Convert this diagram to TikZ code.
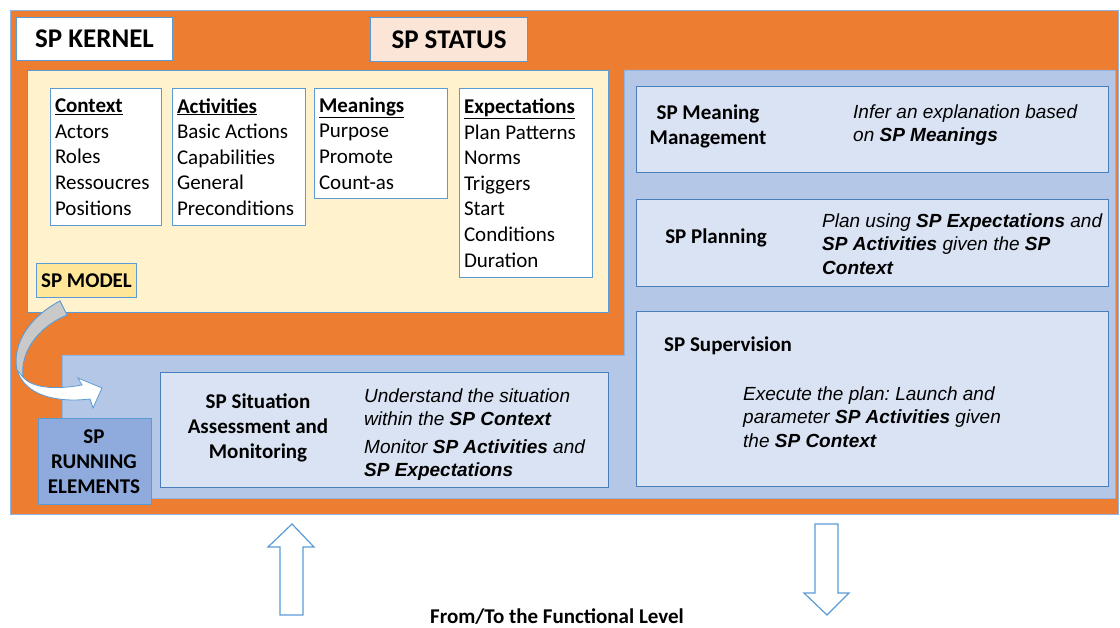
\documentclass[tikz,border=0pt]{standalone}
\usepackage{fontspec}
\setmainfont{Carlito}
\newfontfamily\arialf{Liberation Sans}
\definecolor{orng}{HTML}{ED7D31}
\definecolor{bordblue}{HTML}{5B9BD5}
\definecolor{outerblue}{HTML}{8FB4E3}
\definecolor{panelfill}{HTML}{B4C7E7}
\definecolor{funcfill}{HTML}{DAE3F3}
\definecolor{funcdraw}{HTML}{4A7EBB}
\definecolor{modelfill}{HTML}{FFF2CC}
\definecolor{spmodelfill}{HTML}{FFE699}
\definecolor{runfill}{HTML}{8FAADC}
\definecolor{statusfill}{HTML}{FBE5D6}
\definecolor{foldgray}{HTML}{C9C9C9}
\begin{document}
\begin{tikzpicture}[x=1pt,y=-1pt,
  every node/.append style={execute at begin node={\frenchspacing\spaceskip=0pt\xspaceskip=0pt\relax}},
  box/.style={draw=bordblue, line width=1pt, inner sep=0pt, anchor=north west},
  listbox/.style={box, fill=white, inner xsep=4.5pt, inner ysep=0pt, align=left,
    font=\fontsize{21}{25.6}\selectfont},
  func/.style={box, fill=funcfill, draw=funcdraw, line width=1.2pt},
  hd/.style={font=\fontsize{21}{25}\selectfont\bfseries, align=center, inner sep=0pt},
  it/.style={font=\fontsize{19}{23.5}\selectfont\arialf\itshape, align=left, inner sep=0pt, anchor=west},
  blockarrow/.style={draw=bordblue, line width=1.2pt, fill=white, line join=miter}
]
\useasboundingbox (0,0) rectangle (1120,628);

% outer kernel area
\node[box, draw=outerblue, line width=1.2pt, fill=orng, minimum width=1108pt, minimum height=504pt] (kernelarea) at (10,10) {};

\node[box, fill=white, minimum width=156pt, minimum height=43pt,
  font=\fontsize{27}{32}\selectfont\bfseries] (kernel) at (16,17) {SP KERNEL};
\node[box, fill=statusfill, minimum width=157pt, minimum height=44pt,
  font=\fontsize{27}{32}\selectfont\bfseries] (status) at (370,17) {SP STATUS};

% model area
\node[box, fill=modelfill, minimum width=581pt, minimum height=242pt] (model) at (27,70) {};

\node[listbox, text width=102pt, minimum height=137pt] (context) at (50,88)
  {\textbf{\underline{Context}}\\Actors\\Roles\\Ressoucres\\Positions};
\node[listbox, text width=124pt, minimum height=137pt] (activities) at (172,88)
  {\textbf{\underline{Activities}}\\Basic Actions\\Capabilities\\General\\Preconditions};
\node[listbox, text width=124pt, minimum height=110pt] (meanings) at (314,88)
  {\textbf{\underline{Meanings}}\\Purpose\\Promote\\Count-as};
\node[listbox, text width=124pt, minimum height=189pt] (expectations) at (459,88)
  {\textbf{\underline{Expectations}}\\Plan Patterns\\Norms\\Triggers\\Start\\Conditions\\Duration};

\node[box, fill=spmodelfill, minimum width=100pt, minimum height=34pt,
  font=\fontsize{21}{25}\selectfont\bfseries] (spmodel) at (36,263) {SP MODEL};

% running elements panel (L shape)
\draw[fill=panelfill, draw=outerblue, line width=0.8pt]
  (62,355) -- (624,355) -- (624,70) -- (1115,70) -- (1115,498) -- (62,498) -- cycle;

% curved arrow
\path[fill=white, draw=bordblue, line width=0.8pt, line join=miter]
  (60,301) .. controls (28,318) and (12,345) .. (17,370)
  .. controls (25,395) and (55,403) .. (90,399) -- (93,408) -- (102,388) -- (78,378) -- (82,385)
  .. controls (55,390) and (32,388) .. (23,377)
  .. controls (20,352) and (38,327) .. (67,315) -- cycle;
\path[fill=foldgray, draw=bordblue, line width=0.8pt]
  (60,301) .. controls (28,318) and (12,345) .. (17,370) -- (23,377)
  .. controls (20,352) and (38,327) .. (67,315) -- cycle;

% functional boxes
\node[func, minimum width=472pt, minimum height=86pt] (meaning) at (636,86) {};
\node[func, minimum width=472pt, minimum height=87pt] (planning) at (636,199) {};
\node[func, minimum width=472pt, minimum height=175pt] (supervision) at (636,311) {};
\node[func, minimum width=448pt, minimum height=115pt] (situation) at (160,372) {};
\node[box, fill=runfill, line width=1.2pt, minimum width=113pt, minimum height=86pt] (running) at (38,418) {};

% texts
\node[hd] (meaningT) at (708,126) {SP Meaning\\Management};
\node[it] (meaningD) at (853,125) {Infer an explanation based\\on \textbf{SP Meanings}};

\node[hd] (planningT) at (716,238) {SP Planning};
\node[it] (planningD) at (822,244) {Plan using \textbf{SP Expectations} and\\\textbf{SP Activities} given the \textbf{SP}\\\textbf{Context}};

\node[hd, anchor=west] (supervisionT) at (664,346) {SP Supervision};
\node[it] (supervisionD) at (743,417) {Execute the plan: Launch and\\parameter \textbf{SP Activities} given\\the \textbf{SP Context}};

\node[hd] (situationT) at (258,428) {SP Situation\\Assessment and\\Monitoring};
\node[it] (situationD1) at (364,407) {Understand the situation\\within the \textbf{SP Context}};
\node[it] (situationD2) at (364,460) {Monitor \textbf{SP Activities} and\\\textbf{SP Expectations}};

\node[hd] (runningT) at (94,462) {SP\\RUNNING\\ELEMENTS};

% bottom arrows
\draw[blockarrow] (280,615) -- (280,547) -- (268,547) -- (292,524) -- (314,547) -- (303,547) -- (303,615) -- cycle;
\draw[blockarrow] (815,524) -- (838,524) -- (838,593) -- (849,593) -- (827,615) -- (804,593) -- (815,593) -- cycle;

\node[hd] (functional) at (557,617) {From/To the Functional Level};
\end{tikzpicture}
\end{document}
